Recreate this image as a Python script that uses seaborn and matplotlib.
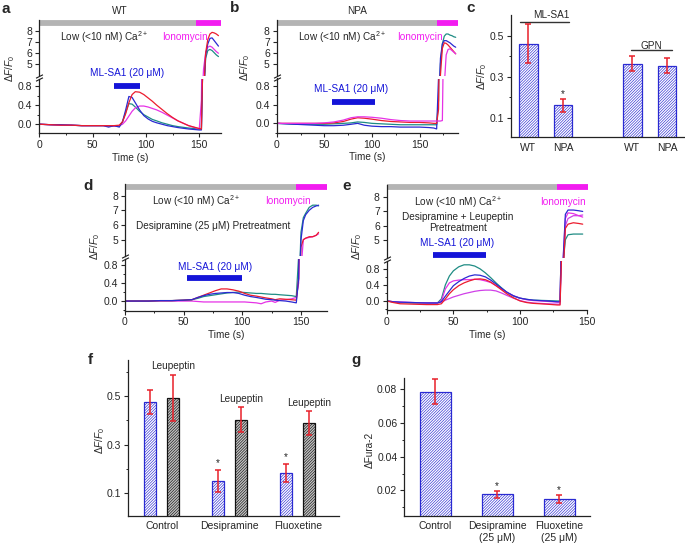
import matplotlib
matplotlib.use("Agg")
import matplotlib.pyplot as plt
from matplotlib.ticker import FixedLocator, MultipleLocator, NullLocator
import pandas as pd
import seaborn as sns

W, H = 685, 543

RED = "#ec1c2e"
BLUE = "#2a2ad2"
TEAL = "#1f8c84"
MAGENTA = "#e632e6"
VIOLET = "#d040e8"
GRAY = "#b4b4b4"
ION = "#f21cf0"
ML_BLUE = "#1414d8"
ERR = "#e8202a"

# --- a: WT traces ---------------------------------------------------------
a_time = [0, 10, 20, 30, 40, 50, 60, 65, 70, 75, 78, 81, 84, 87, 90, 94, 98, 102,
          106, 110, 115, 120, 125, 130, 140, 150, 152, 154, 156, 158, 160, 162,
          164, 166, 168]
a_red = [0.0, -0.01, -0.02, -0.02, -0.03, -0.03, -0.03, -0.03, -0.03, -0.02, 0.05,
         0.22, 0.45, 0.62, 0.68, 0.67, 0.62, 0.55, 0.48, 0.40, 0.31, 0.22, 0.14,
         0.07, -0.03, -0.09, -0.10, 2.0, 6.0, 7.2, 7.7, 7.85, 7.8, 7.7, 7.55]
a_blue = [0.0, -0.01, -0.01, -0.02, -0.03, -0.03, -0.03, -0.06, -0.03, -0.06, 0.05,
          0.30, 0.58, 0.56, 0.45, 0.30, 0.18, 0.11, 0.06, 0.03, 0.0, -0.03, -0.05,
          -0.07, -0.10, -0.12, -0.12, 2.0, 5.8, 6.8, 7.3, 7.35, 7.1, 6.85, 6.6]
a_teal = [0.0, -0.01, -0.02, -0.02, -0.03, -0.03, -0.03, -0.04, -0.04, -0.04, 0.05,
          0.25, 0.43, 0.42, 0.36, 0.27, 0.20, 0.15, 0.10, 0.07, 0.03, 0.0, -0.03,
          -0.05, -0.08, -0.10, -0.11, 2.0, 5.5, 6.2, 6.3, 6.2, 6.0, 5.8, 5.65]
a_magenta = [0.0, -0.01, -0.02, -0.02, -0.03, -0.03, -0.03, -0.03, -0.04, -0.03, 0.0,
             0.07, 0.17, 0.27, 0.34, 0.38, 0.38, 0.36, 0.33, 0.30, 0.25, 0.19, 0.13,
             0.07, -0.03, -0.10, 0.5, 4.5, 6.0, 6.5, 6.6, 6.5, 6.3, 6.1, 5.95]

# --- b: NPA traces --------------------------------------------------------
b_time = [0, 10, 20, 30, 40, 50, 60, 70, 78, 85, 92, 100, 110, 120, 130, 140, 150,
          160, 165, 168, 170, 172, 174, 176, 178, 180, 182, 184, 186, 188]
b_teal = [0.0, -0.01, -0.02, -0.02, -0.02, -0.02, -0.01, 0.0, 0.01, 0.03, 0.02, 0.0,
          -0.01, -0.02, -0.03, -0.03, -0.03, -0.03, -0.03, -0.03, 0.5, 5.0, 6.8,
          7.5, 7.7, 7.7, 7.6, 7.55, 7.45, 7.4]
b_blue = [0.0, -0.01, -0.02, -0.03, -0.04, -0.05, -0.05, -0.04, -0.02, 0.0, -0.04,
          -0.06, -0.07, -0.07, -0.08, -0.08, -0.08, -0.09, -0.10, -0.12, 1.0, 5.5,
          6.8, 7.1, 7.1, 7.0, 6.9, 6.75, 6.6, 6.5]
b_red = [0.0, 0.0, 0.0, 0.0, 0.0, 0.0, 0.01, 0.04, 0.09, 0.12, 0.11, 0.09, 0.06, 0.04,
         0.03, 0.02, 0.02, 0.01, 0.0, 0.0, 0.3, 4.0, 6.4, 6.9, 6.85, 6.7, 6.5, 6.3,
         6.1, 5.9]
b_magenta = [0.0, 0.0, 0.0, 0.0, 0.0, 0.01, 0.03, 0.07, 0.12, 0.14, 0.14, 0.13, 0.11,
             0.08, 0.06, 0.05, 0.05, 0.05, 0.05, 0.05, 0.05, 0.05, 0.06, 3.0, 5.8,
             6.3, 6.35, 6.2, 6.05, 5.9]

# --- d: desipramine pretreatment -----------------------------------------
d_time = [0, 10, 20, 30, 40, 50, 57, 62, 67, 72, 77, 82, 87, 92, 97, 102, 107, 112,
          116, 120, 125, 128, 132, 137, 142, 146, 148, 150, 152, 154, 157, 160, 163,
          165]
d_red = [0.0, 0.0, 0.0, 0.01, 0.01, 0.02, 0.03, 0.08, 0.13, 0.18, 0.23, 0.27, 0.27,
         0.25, 0.22, 0.17, 0.13, 0.11, 0.09, 0.07, 0.05, 0.03, 0.05, 0.04, 0.03,
         0.02, 0.5, 4.5, 5.0, 5.1, 5.2, 5.2, 5.3, 5.5]
d_teal = [0.0, 0.0, 0.0, 0.01, 0.01, 0.02, 0.03, 0.06, 0.10, 0.12, 0.14, 0.16, 0.18,
          0.19, 0.20, 0.19, 0.18, 0.17, 0.17, 0.16, 0.15, 0.15, 0.14, 0.13, 0.12,
          0.10, 1.0, 5.5, 6.5, 6.8, 7.2, 7.35, 7.35, 7.3]
d_blue = [0.0, 0.0, 0.0, 0.01, 0.01, 0.02, 0.03, 0.08, 0.12, 0.15, 0.17, 0.18, 0.19,
          0.19, 0.17, 0.13, 0.10, 0.08, 0.06, 0.04, 0.03, 0.02, 0.01, 0.0, -0.02,
          -0.04, 0.5, 5.0, 6.3, 6.7, 7.0, 7.2, 7.3, 7.35]
d_magenta = [0.0, 0.0, 0.0, 0.0, 0.0, 0.0, 0.0, -0.01, -0.02, -0.02, -0.02, -0.02,
             -0.02, -0.02, -0.02, -0.02, -0.03, -0.04, -0.06, -0.02, 0.0, -0.03,
             0.02, 0.03, 0.05, 0.08, 0.4, 3.0, 5.0, 5.1, 5.15, 5.2, 5.3, 5.4]

# --- e: desipramine + leupeptin pretreatment -----------------------------
e_time = [0, 5, 10, 20, 30, 38, 41, 44, 47, 50, 54, 58, 62, 66, 70, 74, 78, 82, 86,
          90, 95, 100, 105, 110, 120, 128, 130, 132, 134, 136, 140, 144, 147]
e_teal = [0.0, -0.02, -0.04, -0.05, -0.05, -0.05, 0.05, 0.40, 0.62, 0.75, 0.85, 0.90,
          0.90, 0.87, 0.80, 0.70, 0.58, 0.45, 0.33, 0.22, 0.12, 0.07, 0.04, 0.02,
          0.01, 0.0, 0.0, 3.0, 5.0, 5.35, 5.4, 5.4, 5.4]
e_blue = [0.0, -0.02, -0.03, -0.04, -0.05, -0.05, -0.02, 0.12, 0.25, 0.38, 0.48, 0.56,
          0.62, 0.65, 0.64, 0.60, 0.52, 0.42, 0.32, 0.22, 0.13, 0.07, 0.04, 0.02,
          0.0, -0.02, -0.02, 3.0, 6.8, 7.1, 7.1, 7.05, 7.0]
e_red = [0.0, -0.04, -0.07, -0.08, -0.09, -0.09, -0.07, 0.05, 0.18, 0.28, 0.38, 0.45,
         0.50, 0.54, 0.55, 0.53, 0.47, 0.38, 0.28, 0.18, 0.08, 0.0, -0.04, -0.06,
         -0.08, -0.10, -0.10, 2.0, 5.8, 6.1, 6.2, 6.15, 6.1]
e_magenta = [0.0, -0.02, -0.03, -0.04, -0.05, -0.05, 0.0, 0.30, 0.45, 0.50, 0.52, 0.53,
             0.53, 0.54, 0.53, 0.50, 0.46, 0.38, 0.30, 0.22, 0.13, 0.07, 0.03, 0.01,
             -0.01, -0.03, -0.03, 3.0, 6.5, 6.9, 6.85, 6.7, 6.6]
e_violet = [0.0, -0.02, -0.03, -0.04, -0.05, -0.05, -0.03, 0.02, 0.06, 0.10, 0.14,
            0.18, 0.21, 0.24, 0.26, 0.27, 0.27, 0.25, 0.20, 0.14, 0.07, 0.01, -0.03,
            -0.05, -0.07, -0.08, -0.08, 2.0, 6.0, 6.5, 6.7, 6.7, 6.75]

# --- c: peak responses ---------------------------------------------------
c_pos = [0, 1, 3, 4]
c_labels = ["WT", "NPA", "WT", "NPA"]
c_mean = [0.46, 0.16, 0.364, 0.353]
c_err = [0.095, 0.033, 0.037, 0.036]
c_star = [False, True, False, False]

# --- f: leupeptin rescue -------------------------------------------------
f_groups = ["Control", "Desipramine", "Fluoxetine"]
f_plain = [0.477, 0.151, 0.183]
f_plain_err = [0.05, 0.046, 0.038]
f_leup = [0.494, 0.403, 0.39]
f_leup_err = [0.095, 0.051, 0.049]
f_star = [False, True, True]

# --- g: Fura-2 ----------------------------------------------------------
g_labels = ["Control", "Desipramine\n(25 μM)", "Fluoxetine\n(25 μM)"]
g_mean = [0.0786, 0.0176, 0.0149]
g_err = [0.0075, 0.0018, 0.0022]
g_star = [False, True, True]

FS = 7.2

sns.set_theme(style="ticks", rc={
    "axes.linewidth": 0.9,
    "axes.edgecolor": "#222222",
    "xtick.direction": "out",
    "ytick.direction": "out",
    "xtick.major.size": 3,
    "ytick.major.size": 3,
    "xtick.minor.size": 1.6,
    "ytick.minor.size": 1.6,
    "xtick.major.width": 0.8,
    "ytick.major.width": 0.8,
    "xtick.minor.width": 0.7,
    "ytick.minor.width": 0.7,
    "xtick.major.pad": 2,
    "ytick.major.pad": 2,
    "xtick.labelsize": FS + 0.3,
    "ytick.labelsize": FS + 0.3,
    "axes.labelsize": FS,
    "hatch.linewidth": 0.45,
})
plt.rcParams["font.family"] = ["Liberation Sans", "DejaVu Sans"]
plt.rcParams["mathtext.fontset"] = "custom"
plt.rcParams["mathtext.rm"] = "Liberation Sans"
plt.rcParams["mathtext.it"] = "Liberation Sans:italic"
plt.rcParams["mathtext.bf"] = "Liberation Sans:bold"

DFF = r"$\Delta F/F_0$"
CA = r"Low (<10 nM) Ca$^{2+}$"
MLSA = "ML-SA1 (20 μM)"
HATCH = "/" * 12

fig = plt.figure(figsize=(W / 100, H / 100), dpi=100)


def px_axes(x0, y0, x1, y1):
    return fig.add_axes([x0 / W, 1 - y1 / H, (x1 - x0) / W, (y1 - y0) / H])


def ftext(x, y, s, **kw):
    kw.setdefault("fontsize", FS)
    kw.setdefault("va", "center")
    fig.text(x / W, 1 - y / H, s, **kw)


def trace_panel(box, junction, t, traces, xlim, up_lim, lo_lim,
                ion_start, bar_end, top_y, ml_span, ml_y):
    x0, y0, x1, y1 = box
    ax_up = px_axes(x0, y0, x1, junction - 1.5)
    ax_lo = px_axes(x0, junction + 1.5, x1, y1)
    for ax in (ax_up, ax_lo):
        for color, vals in traces:
            sns.lineplot(x=t, y=vals, ax=ax, color=color, linewidth=0.9,
                         estimator=None, sort=False)
        ax.set_xlim(*xlim)
        ax.set_xlabel("")
        ax.set_ylabel("")

    ax_up.set_ylim(*up_lim)
    ax_up.yaxis.set_major_locator(FixedLocator([5, 6, 7, 8]))
    ax_up.yaxis.set_minor_locator(NullLocator())
    ax_up.tick_params(axis="x", which="both", bottom=False, labelbottom=False)
    sns.despine(ax=ax_up, bottom=True)

    ax_lo.set_ylim(*lo_lim)
    ax_lo.yaxis.set_major_locator(FixedLocator([0.0, 0.4, 0.8]))
    ax_lo.yaxis.set_minor_locator(FixedLocator([-0.2, 0.2, 0.6]))
    ax_lo.xaxis.set_major_locator(MultipleLocator(50))
    ax_lo.xaxis.set_minor_locator(MultipleLocator(25))
    ax_lo.set_xlabel("Time (s)", labelpad=2)
    sns.despine(ax=ax_lo)

    # axis break marks
    brk = dict(marker=[(-1, -0.5), (1, 0.5)], markersize=5, linestyle="none",
               color="k", mec="k", mew=0.8, clip_on=False)
    ax_up.plot([0], [0], transform=ax_up.transAxes, **brk)
    ax_lo.plot([0], [1], transform=ax_lo.transAxes, **brk)

    # solution bars
    ax_up.plot([xlim[0], ion_start], [top_y, top_y], color=GRAY, lw=4.2,
               solid_capstyle="butt", clip_on=False)
    ax_up.plot([ion_start, bar_end], [top_y, top_y], color=ION, lw=4.2,
               solid_capstyle="butt", clip_on=False)
    ax_lo.plot(ml_span, [ml_y, ml_y], color=ML_BLUE, lw=4.2,
               solid_capstyle="butt", clip_on=False)
    return ax_up, ax_lo


# a
trace_panel((39.3, 19.7, 220.6, 133.3), 77,
            a_time, [(TEAL, a_teal), (MAGENTA, a_magenta), (BLUE, a_blue), (RED, a_red)],
            (0, 170), (3.93, 9.0), (-0.19, 0.956), 147, 170, 8.73, [70.5, 94], 0.8)
ftext(2, 9, "a", fontsize=11, fontweight="bold")
ftext(120, 10.5, "WT", ha="center")
ftext(60, 36.7, CA)
ftext(161.7, 36.7, "Ionomycin", color=ION)
ftext(127.5, 72.7, MLSA, ha="center", color=ML_BLUE)
ftext(10, 68, DFF, rotation=90, ha="center")

# b
trace_panel((276.7, 19.7, 457.6, 132.7), 77,
            b_time, [(TEAL, b_teal), (BLUE, b_blue), (RED, b_red), (MAGENTA, b_magenta)],
            (0, 190), (3.93, 9.0), (-0.2, 0.96), 168, 190, 8.73, [58, 103], 0.45)
ftext(230, 8, "b", fontsize=11, fontweight="bold")
ftext(356.7, 10.5, "NPA", ha="center")
ftext(298, 36.7, CA)
ftext(396.7, 36.7, "Ionomycin", color=ION)
ftext(351.3, 89.3, MLSA, ha="center", color=ML_BLUE)
ftext(245, 67, DFF, rotation=90, ha="center")

# d
trace_panel((125, 183.9, 326.8, 310.5), 257.3,
            d_time, [(MAGENTA, d_magenta), (TEAL, d_teal), (RED, d_red), (BLUE, d_blue)],
            (0, 172), (3.9, 8.8), (-0.21, 0.94), 146, 172, 8.57, [52.6, 99.5], 0.51)
ftext(83, 186, "d", fontsize=11, fontweight="bold")
ftext(151.7, 201, CA)
ftext(265, 201, "Ionomycin", color=ION)
ftext(136, 226, "Desipramine (25 μM) Pretreatment")
ftext(214.8, 266.7, MLSA, ha="center", color=ML_BLUE)
ftext(95, 246.7, DFF, rotation=90, ha="center")

# e
trace_panel((386.7, 184.6, 586.7, 310), 259.3,
            e_time, [(VIOLET, e_violet), (TEAL, e_teal), (MAGENTA, e_magenta),
                     (BLUE, e_blue), (RED, e_red)],
            (0, 150), (3.72, 8.9), (-0.225, 1.0), 127.5, 151, 8.71, [34.5, 74.3], 1.14)
ftext(342.7, 186, "e", fontsize=11, fontweight="bold")
ftext(414, 201.7, CA)
ftext(540, 201.7, "Ionomycin", color=ION)
ftext(457.7, 216.7, "Desipramine + Leupeptin", ha="center")
ftext(458.3, 228.3, "Pretreatment", ha="center")
ftext(457.5, 243.3, MLSA, ha="center", color=ML_BLUE)
ftext(356.7, 246.7, DFF, rotation=90, ha="center")


def style_bars(bars, edge):
    for bar in bars:
        bar.set_edgecolor(edge)
        bar.set_linewidth(0.9)
        bar.set_hatch(HATCH)


def add_err(ax, bars, means, errs, stars, star_gap):
    xs = [b.get_x() + b.get_width() / 2 for b in bars]
    ax.errorbar(xs, means, yerr=errs, fmt="none", ecolor=ERR, elinewidth=1.1,
                capsize=2, capthick=1.1, zorder=4)
    for x, m, e, s in zip(xs, means, errs, stars):
        if s:
            ax.text(x, m + e + star_gap, "*", ha="center", va="bottom", fontsize=FS)
    return xs


def bar_axes_style(ax):
    sns.despine(ax=ax)
    ax.tick_params(axis="x", which="both", length=0, pad=4)
    ax.set_xlabel("")
    ax.set_ylabel("")


# c
ax_c = px_axes(511, 15, 684.5, 137.3)
sns.barplot(x=c_pos, y=c_mean, native_scale=True, width=0.53, color="white",
            saturation=1, errorbar=None, ax=ax_c)
style_bars(ax_c.containers[0], BLUE)
add_err(ax_c, ax_c.containers[0], c_mean, c_err, c_star, 0.0)
ax_c.set_xlim(-0.5, 4.5)
ax_c.set_ylim(0.005, 0.6)
ax_c.set_xticks(c_pos, c_labels)
ax_c.yaxis.set_major_locator(FixedLocator([0.1, 0.3, 0.5]))
ax_c.yaxis.set_minor_locator(FixedLocator([0.2, 0.4]))
bar_axes_style(ax_c)
ax_c.plot([-0.25, 1.18], [0.565, 0.565], color="#333333", lw=1.0)
ax_c.plot([2.95, 4.15], [0.43, 0.43], color="#333333", lw=1.0)
ftext(466, 8.3, "c", fontsize=11, fontweight="bold")
ftext(551, 15, "ML-SA1", ha="center")
ftext(651.7, 46, "GPN", ha="center")
ftext(481.7, 76.7, DFF, rotation=90, ha="center")

# f
f_df = pd.DataFrame({
    "group": f_groups * 2,
    "treat": ["none"] * 3 + ["Leupeptin"] * 3,
    "val": f_plain + f_leup,
})
ax_f = px_axes(127.7, 360, 338.5, 515.7)
sns.barplot(data=f_df, x="group", y="val", hue="treat", palette=["white", "#c4c4c4"],
            saturation=1, width=0.68, gap=0.49, errorbar=None, legend=False, ax=ax_f)
style_bars(ax_f.containers[0], BLUE)
style_bars(ax_f.containers[1], "#111111")
add_err(ax_f, ax_f.containers[0], f_plain, f_plain_err, f_star, 0.006)
leup_x = add_err(ax_f, ax_f.containers[1], f_leup, f_leup_err, [False] * 3, 0.0)
for x, m, e in zip(leup_x, f_leup, f_leup_err):
    ax_f.text(x, m + e + 0.035, "Leupeptin", ha="center", va="center", fontsize=FS)
ax_f.set_xlim(-0.5, 2.6)
ax_f.set_ylim(0.006, 0.65)
ax_f.yaxis.set_major_locator(FixedLocator([0.1, 0.3, 0.5]))
ax_f.yaxis.set_minor_locator(FixedLocator([0.2, 0.4, 0.6]))
bar_axes_style(ax_f)
ftext(88, 360, "f", fontsize=11, fontweight="bold")
ftext(100, 440, DFF, rotation=90, ha="center")

# g
ax_g = px_axes(404.3, 377.7, 590.3, 515.7)
sns.barplot(x=g_labels, y=g_mean, width=0.5, color="white", saturation=1,
            errorbar=None, ax=ax_g)
style_bars(ax_g.containers[0], BLUE)
add_err(ax_g, ax_g.containers[0], g_mean, g_err, g_star, 0.0004)
ax_g.set_xlim(-0.5, 2.5)
ax_g.set_ylim(0.005, 0.087)
ax_g.yaxis.set_major_locator(MultipleLocator(0.02))
ax_g.yaxis.set_minor_locator(MultipleLocator(0.01))
bar_axes_style(ax_g)
ftext(351.7, 360, "g", fontsize=11, fontweight="bold")
ftext(370, 450, "ΔFura-2", rotation=90, ha="center")

fig.savefig("out.png", dpi=100, facecolor="white")
